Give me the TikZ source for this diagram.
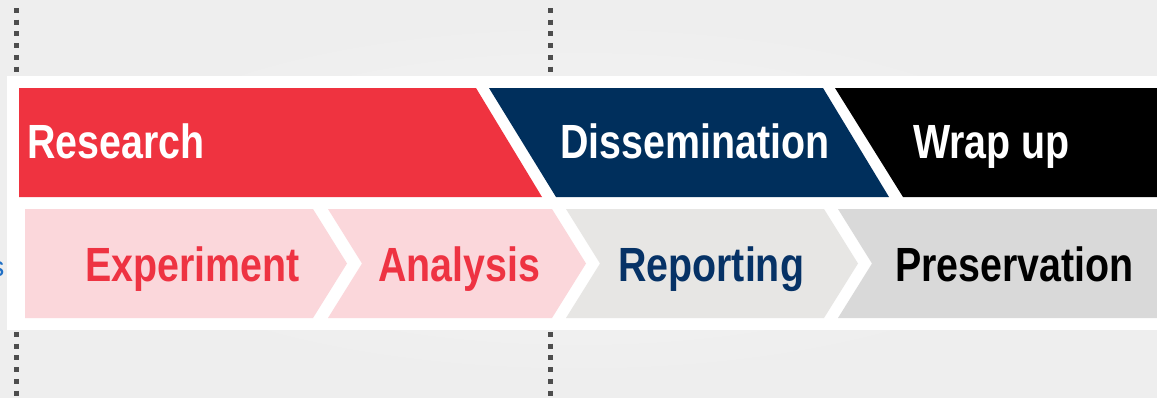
\documentclass[tikz,border=0pt]{standalone}
\usepackage{fontspec}
\setmainfont{Liberation Sans}
\newfontfamily\narrowbold[FakeStretch=0.82]{Liberation Sans Bold}
\definecolor{bgc}{HTML}{EEEEEE}
\definecolor{redc}{HTML}{EF3340}
\definecolor{navyc}{HTML}{002F5C}
\definecolor{pinkc}{HTML}{FBD7DB}
\definecolor{greyA}{HTML}{E7E6E4}
\definecolor{greyB}{HTML}{D9D9D9}
\definecolor{redtext}{HTML}{EE3342}
\definecolor{navytext}{HTML}{063266}
\definecolor{dotc}{HTML}{4D4D4D}
\definecolor{bluec}{HTML}{1F6FC5}
\begin{document}
\begin{tikzpicture}[x=1pt,y=-1pt,
  lbl/.style={inner sep=0pt,anchor=base west,font=\narrowbold\fontsize{48}{50}\selectfont},
  dotline/.style={dotc,line width=5pt,dash pattern=on 5pt off 6.7pt}]
\useasboundingbox (0,0) rectangle (1157,397);
\clip (0,0) rectangle (1157,397);
\shade[inner color=white,outer color=bgc] (0,0) rectangle (1157,397);
\fill[bgc,opacity=0.6] (0,0) rectangle (1157,397);
% dotted guides
\coordinate (d1a) at (16,8);  \coordinate (d1b) at (16,76);
\coordinate (d1c) at (16,332); \coordinate (d1d) at (16,397);
\coordinate (d2a) at (550,8);  \coordinate (d2b) at (550,76);
\coordinate (d2c) at (550,332); \coordinate (d2d) at (550,397);
\draw[dotline] (d1a) -- (d1b);
\draw[dotline] (d1c) -- (d1d);
\draw[dotline] (d2a) -- (d2b);
\draw[dotline] (d2c) -- (d2d);
% white panel
\fill[white] (7,76) rectangle (1160,330);
% top row
\fill[redc] (19,88) -- (476,88) -- (542,197) -- (19,197) -- cycle;
\fill[navyc] (489,88) -- (823,88) -- (889,197) -- (556,197) -- cycle;
\fill[black] (835,88) -- (1160,88) -- (1160,197) -- (903,197) -- cycle;
% bottom row
\fill[pinkc] (25,209) -- (313,209) -- (347,263.5) -- (313,318) -- (25,318) -- cycle;
\fill[pinkc] (328,209) -- (552,209) -- (586,263.5) -- (552,318) -- (328,318) -- (362,263.5) -- cycle;
\fill[greyA] (566,209) -- (824,209) -- (858,263.5) -- (824,318) -- (566,318) -- (600,263.5) -- cycle;
\fill[greyB] (838,209) -- (1160,209) -- (1160,318) -- (838,318) -- (872,263.5) -- cycle;
% labels
\node[lbl,white] (research) at (27,158) {Research};
\node[lbl,white] (dissem) at (560,158) {Dissemination};
\node[lbl,white] (wrap) at (913,158) {Wrap up};
\node[lbl,redtext] (exp) at (85,281) {Experiment};
\node[lbl,redtext] (ana) at (378,281) {Analysis};
\node[lbl,navytext] (rep) at (618,281) {Reporting};
\node[lbl,black] (pres) at (895,281) {Preservation};
\node[inner sep=0pt,anchor=base east,bluec,font=\fontsize{28}{30}\selectfont] (cut) at (4.5,276) {s};
\end{tikzpicture}
\end{document}
